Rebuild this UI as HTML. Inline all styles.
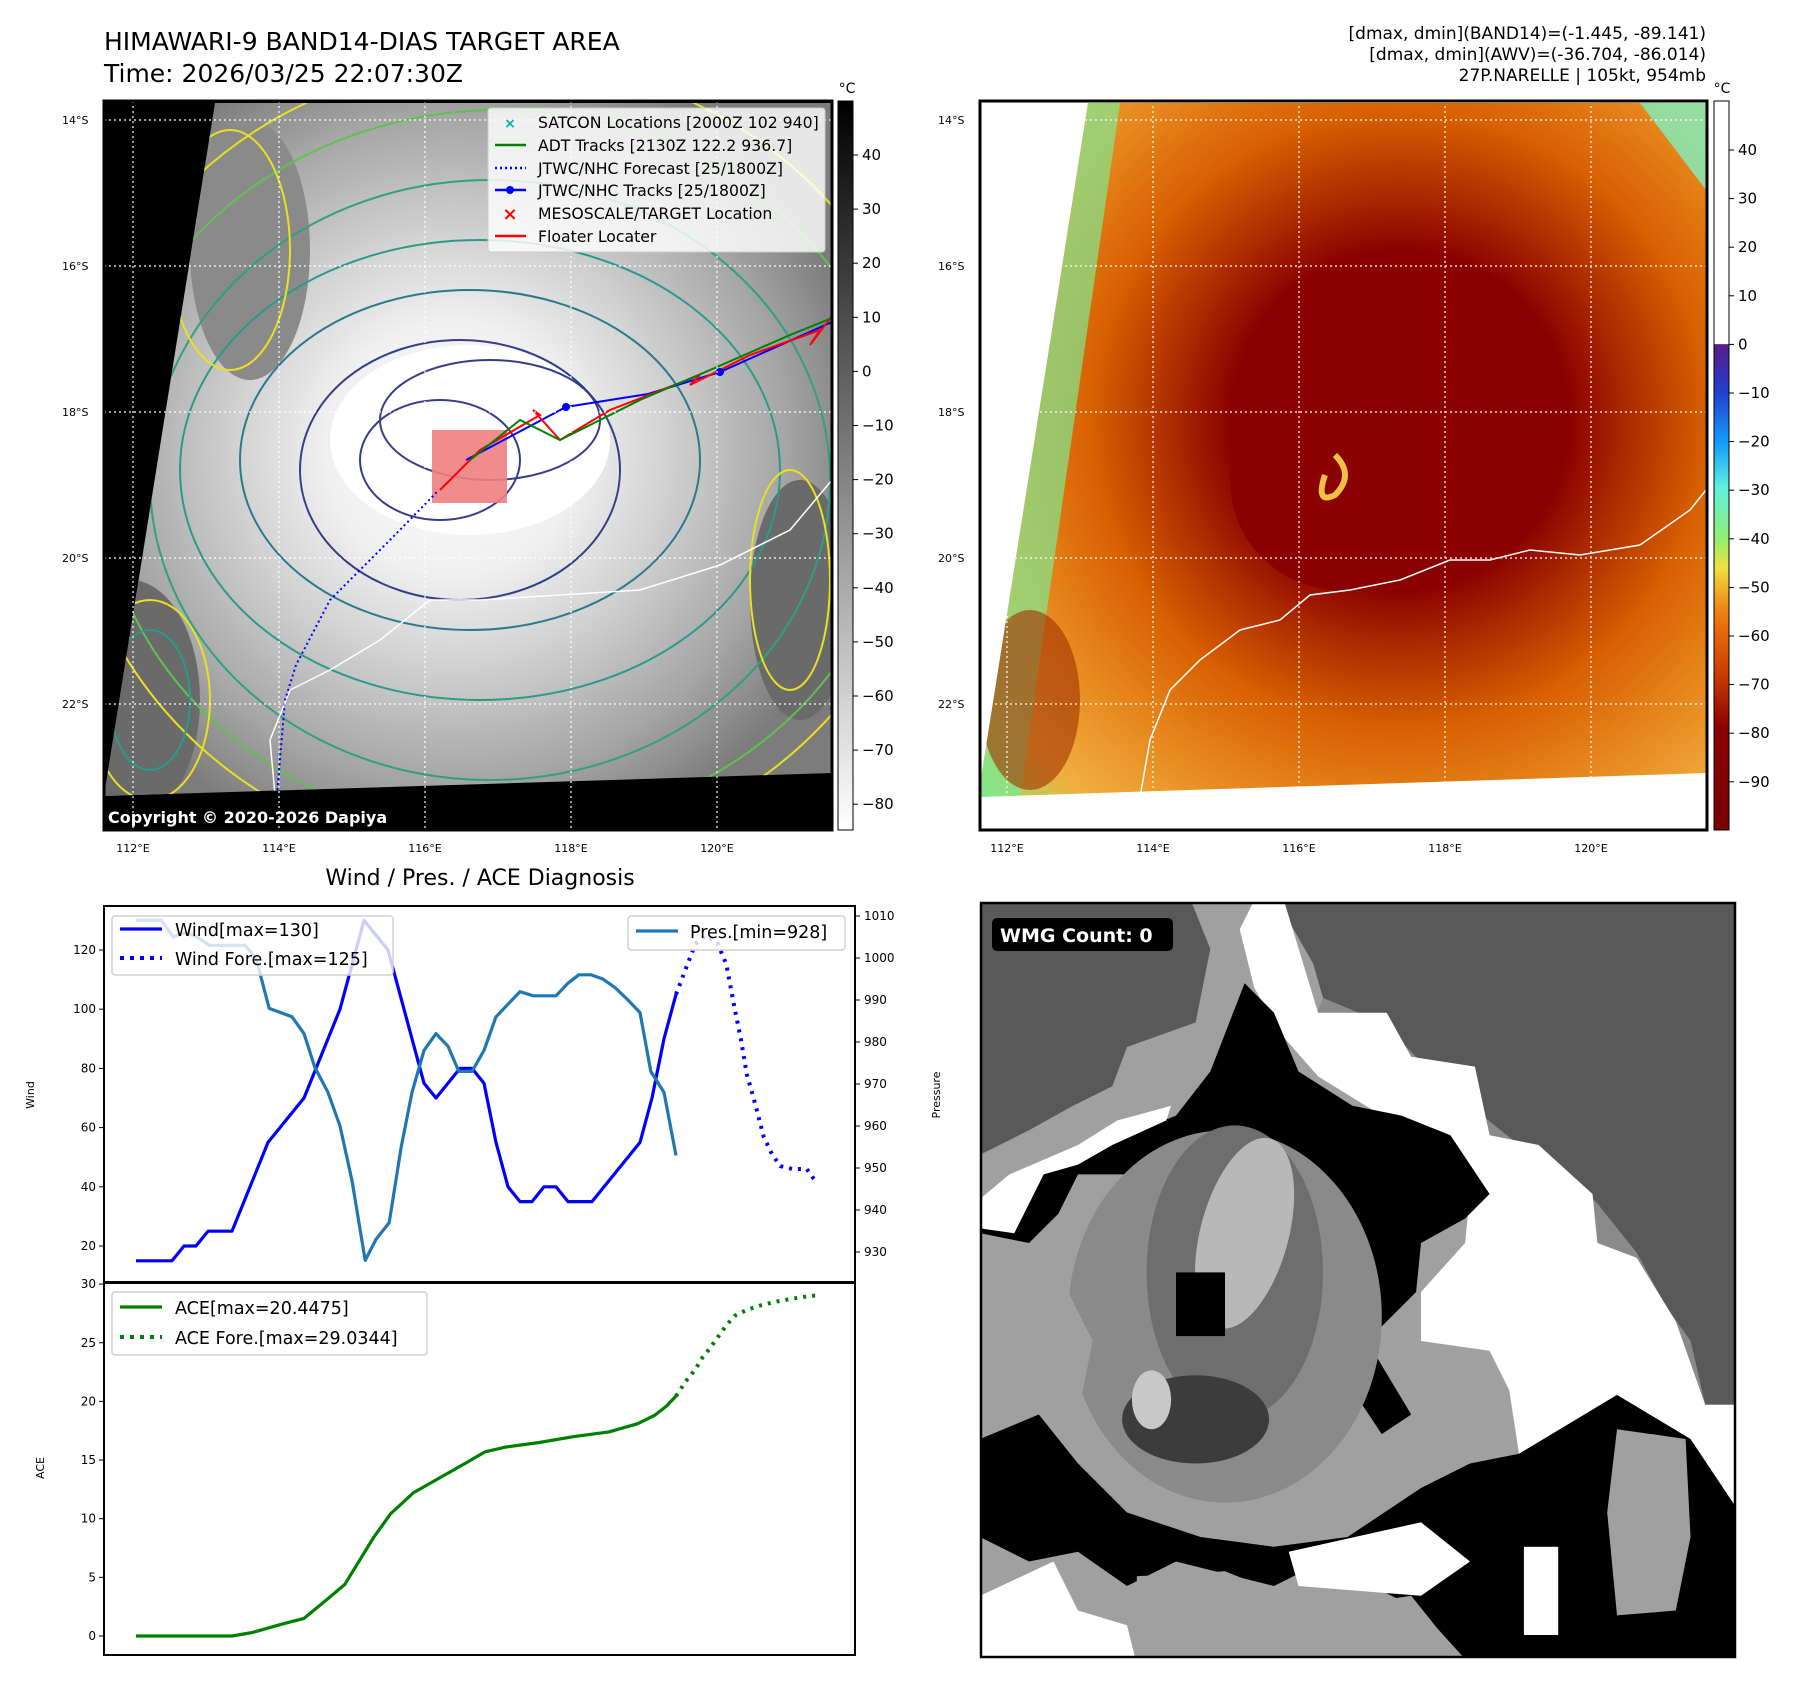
<!DOCTYPE html>
<html><head><meta charset="utf-8"><style>
html,body{margin:0;padding:0;background:#fff;}
svg{display:block;font-family:"DejaVu Sans","Liberation Sans",sans-serif;}
</style></head><body>
<svg id="fig" width="1797" height="1690" viewBox="0 0 1797 1690" xmlns="http://www.w3.org/2000/svg">
<defs>
<radialGradient id="lgray" cx="452" cy="449" r="420" gradientUnits="userSpaceOnUse">
<stop offset="0" stop-color="#ffffff"/><stop offset="0.3" stop-color="#f0f0f0"/><stop offset="0.55" stop-color="#cccccc"/><stop offset="0.8" stop-color="#a4a4a4"/><stop offset="1" stop-color="#7c7c7c"/></radialGradient>
<radialGradient id="rcol" cx="1400" cy="420" r="560" gradientUnits="userSpaceOnUse">
<stop offset="0" stop-color="#8b0000"/><stop offset="0.3" stop-color="#8b0000"/><stop offset="0.42" stop-color="#b03000"/><stop offset="0.55" stop-color="#d86000"/><stop offset="0.72" stop-color="#e88a20"/><stop offset="0.88" stop-color="#f0b040"/><stop offset="1" stop-color="#90e070"/></radialGradient>
<linearGradient id="cbL" x1="0" y1="0" x2="0" y2="1"><stop offset="0" stop-color="#000"/><stop offset="1" stop-color="#fff"/></linearGradient>
<linearGradient id="cbR" x1="0" y1="0" x2="0" y2="1">
<stop offset="0" stop-color="#fff"/><stop offset="0.333" stop-color="#fff"/><stop offset="0.334" stop-color="#5a1a8a"/><stop offset="0.4" stop-color="#2040d0"/><stop offset="0.47" stop-color="#10a0ff"/><stop offset="0.53" stop-color="#60f0e0"/><stop offset="0.6" stop-color="#90f070"/><stop offset="0.64" stop-color="#f0e040"/><stop offset="0.7" stop-color="#f08010"/><stop offset="0.78" stop-color="#d04000"/><stop offset="0.86" stop-color="#8b0000"/><stop offset="1" stop-color="#7a0000"/></linearGradient>
<clipPath id="clipL"><polygon points="215,103 832,103 832,773 104,796"/></clipPath>
<clipPath id="clipR"><polygon points="1088,103 1706,103 1706,773 978,797"/></clipPath>
<clipPath id="clipW"><rect x="981" y="903" width="754" height="754"/></clipPath>
</defs>

<text x="104" y="50" font-size="25">HIMAWARI-9 BAND14-DIAS TARGET AREA</text>
<text x="104" y="82" font-size="25">Time: 2026/03/25 22:07:30Z</text>
<g font-size="17" text-anchor="end">
<text x="1706" y="39">[dmax, dmin](BAND14)=(-1.445, -89.141)</text>
<text x="1706" y="60">[dmax, dmin](AWV)=(-36.704, -86.014)</text>
<text x="1706" y="81">27P.NARELLE | 105kt, 954mb</text>
</g>

<g>
<rect x="104" y="101" width="728" height="729" fill="#000"/>
<polygon points="215,103 832,103 832,773 104,796" fill="url(#lgray)"/>
<g clip-path="url(#clipL)" fill="none" stroke-width="2">
<ellipse cx="130" cy="700" rx="70" ry="120" fill="#6a6a6a" stroke="none"/>
<ellipse cx="250" cy="250" rx="60" ry="130" fill="#8a8a8a" stroke="none"/>
<ellipse cx="800" cy="600" rx="50" ry="120" fill="#6a6a6a" stroke="none"/>
<ellipse cx="470" cy="440" rx="140" ry="95" fill="#fff" stroke="none"/>
<ellipse cx="440" cy="460" rx="80" ry="60" stroke="#353e88"/>
<ellipse cx="490" cy="420" rx="110" ry="60" stroke="#353e88"/>
<ellipse cx="460" cy="470" rx="160" ry="130" stroke="#353e88"/>
<ellipse cx="470" cy="460" rx="230" ry="170" stroke="#2a7a8a"/>
<ellipse cx="480" cy="470" rx="300" ry="230" stroke="#2a9a8a"/>
<ellipse cx="490" cy="480" rx="340" ry="300" stroke="#30a080"/>
<ellipse cx="500" cy="470" rx="400" ry="360" stroke="#60c050"/>
<ellipse cx="500" cy="460" rx="430" ry="400" stroke="#e8e020"/>
<ellipse cx="230" cy="250" rx="60" ry="120" stroke="#e8e020"/>
<ellipse cx="150" cy="700" rx="60" ry="100" stroke="#e8e020"/>
<ellipse cx="150" cy="700" rx="40" ry="70" stroke="#2a9a8a"/>
<ellipse cx="790" cy="580" rx="40" ry="110" stroke="#e8e020"/>
<polyline points="275,795 270,740 290,690 330,670 380,640 430,600 480,600 560,595 640,590 720,565 790,530 832,480" stroke="#fff" stroke-width="1.5"/>
<rect x="432" y="430" width="75" height="73" fill="#f08080" stroke="none" opacity="0.9"/>
<polyline points="277,795 285,700 296,665 330,600 390,540 437,492" stroke="#0000ff" stroke-dasharray="2,3"/>
<polyline points="466,460 566,407 648,394 720,372 832,322" stroke="#0000ff"/>
<polyline points="440,490 480,450 540,415 533,410 560,440 610,410 700,375 690,385 750,355 820,330 810,345 832,316" stroke="#ff0000"/>
<polyline points="470,460 520,420 560,440 640,400 710,370 790,335 832,318" stroke="#008000"/>
<circle cx="566" cy="407" r="4" fill="#0000ff" stroke="none"/>
<circle cx="720" cy="372" r="4" fill="#0000ff" stroke="none"/>
</g>
<g stroke="#fff" stroke-dasharray="2,3" stroke-width="1.2" fill="none">
<line x1="133" y1="101" x2="133" y2="830"/><line x1="279" y1="101" x2="279" y2="830"/><line x1="425" y1="101" x2="425" y2="830"/><line x1="571" y1="101" x2="571" y2="830"/><line x1="717" y1="101" x2="717" y2="830"/>
<line x1="104" y1="120" x2="832" y2="120"/><line x1="104" y1="266" x2="832" y2="266"/><line x1="104" y1="412" x2="832" y2="412"/><line x1="104" y1="558" x2="832" y2="558"/><line x1="104" y1="704" x2="832" y2="704"/>
</g>
<rect x="104" y="101" width="728" height="729" fill="none" stroke="#000" stroke-width="3"/>
<text x="108" y="823" font-size="16" font-weight="bold" fill="#fff">Copyright © 2020-2026 Dapiya</text>
<g>
<rect x="488" y="108" width="337" height="144" rx="3" fill="#fff" fill-opacity="0.82" stroke="#ccc"/>
<g font-size="15.7">
<text x="538" y="128">SATCON Locations [2000Z 102 940]</text>
<text x="538" y="151">ADT Tracks [2130Z 122.2 936.7]</text>
<text x="538" y="174">JTWC/NHC Forecast [25/1800Z]</text>
<text x="538" y="196">JTWC/NHC Tracks [25/1800Z]</text>
<text x="538" y="219">MESOSCALE/TARGET Location</text>
<text x="538" y="242">Floater Locater</text>
</g>
<text x="510" y="128" font-size="14" font-weight="bold" fill="#00b0b0" text-anchor="middle">×</text>
<line x1="495" y1="145" x2="526" y2="145" stroke="#008000" stroke-width="2.5"/>
<line x1="495" y1="168" x2="526" y2="168" stroke="#0000ff" stroke-width="2.5" stroke-dasharray="2,3"/>
<line x1="495" y1="190" x2="526" y2="190" stroke="#0000ff" stroke-width="2.5"/><circle cx="510" cy="190" r="4" fill="#0000ff"/>
<text x="510" y="220" font-size="18" font-weight="bold" fill="#ff0000" text-anchor="middle">×</text>
<line x1="495" y1="236" x2="526" y2="236" stroke="#ff0000" stroke-width="2.5"/>
</g>
</g>
<g font-size="11">
<text x="62" y="124">14°S</text><text x="62" y="270">16°S</text><text x="62" y="416">18°S</text><text x="62" y="562">20°S</text><text x="62" y="708">22°S</text>
<g text-anchor="middle"><text x="133" y="852">112°E</text><text x="279" y="852">114°E</text><text x="425" y="852">116°E</text><text x="571" y="852">118°E</text><text x="717" y="852">120°E</text></g>
</g>
<g>
<rect x="838" y="101" width="15" height="729" fill="url(#cbL)" stroke="#000"/>
<text x="847" y="93" font-size="14" text-anchor="middle">°C</text>
<g font-size="15" id="cbLticks"></g>
</g>

<g>
<rect x="980" y="101" width="727" height="729" fill="#fff"/>
<polygon points="1088,103 1706,103 1706,773 978,797" fill="url(#rcol)"/>
<g clip-path="url(#clipR)">
<polygon points="1088,103 1120,103 1020,797 978,797" fill="#80e890" opacity="0.7"/>
<polygon points="1640,103 1706,103 1706,190" fill="#80f0c0" opacity="0.8"/>
<ellipse cx="1030" cy="700" rx="50" ry="90" fill="#a03000" opacity="0.6"/>
<ellipse cx="1340" cy="480" rx="110" ry="110" fill="#8b0000"/>
<path d="M1335,455 q20,20 0,40 q-20,10 -10,-20" stroke="#f0c040" stroke-width="6" fill="none"/>
<polyline points="1140,797 1150,740 1170,690 1200,660 1240,630 1280,620 1310,595 1350,590 1400,580 1450,560 1490,560 1530,550 1580,555 1640,545 1690,510 1706,490" stroke="#fff" stroke-width="1.5" fill="none"/>
</g>
<g stroke="#fff" stroke-dasharray="2,3" stroke-width="1.2" fill="none">
<line x1="1007" y1="101" x2="1007" y2="830"/><line x1="1153" y1="101" x2="1153" y2="830"/><line x1="1299" y1="101" x2="1299" y2="830"/><line x1="1445" y1="101" x2="1445" y2="830"/><line x1="1591" y1="101" x2="1591" y2="830"/>
<line x1="980" y1="120" x2="1706" y2="120"/><line x1="980" y1="266" x2="1706" y2="266"/><line x1="980" y1="412" x2="1706" y2="412"/><line x1="980" y1="558" x2="1706" y2="558"/><line x1="980" y1="704" x2="1706" y2="704"/>
</g>
<rect x="980" y="101" width="727" height="729" fill="none" stroke="#000" stroke-width="3"/>
</g>
<g font-size="11">
<text x="938" y="124">14°S</text><text x="938" y="270">16°S</text><text x="938" y="416">18°S</text><text x="938" y="562">20°S</text><text x="938" y="708">22°S</text>
<g text-anchor="middle"><text x="1007" y="852">112°E</text><text x="1153" y="852">114°E</text><text x="1299" y="852">116°E</text><text x="1445" y="852">118°E</text><text x="1591" y="852">120°E</text></g>
</g>
<g>
<rect x="1714" y="101" width="15" height="729" fill="url(#cbR)" stroke="#000"/>
<text x="1722" y="93" font-size="14" text-anchor="middle">°C</text>
<g font-size="15" id="cbRticks"></g>
</g>

<text x="480" y="885" font-size="22" text-anchor="middle">Wind / Pres. / ACE Diagnosis</text>
<g id="windChart"></g>
<g id="aceChart"></g>

<g>
<g clip-path="url(#clipW)">
<g transform="translate(980,900) scale(0.49)">
<rect x="0" y="0" width="1550" height="1560" fill="#a0a0a0"/>
<polygon points="0,0 430,0 470,100 440,250 300,300 270,380 190,420 100,470 0,520" fill="#595959"/>
<polygon points="600,0 1550,0 1550,1030 1480,1030 1450,900 1400,830 1340,720 1260,620 1200,560 1100,500 1000,420 900,330 820,250 700,200 680,130 640,60" fill="#595959"/>
<polygon points="700,200 820,250 900,330 1000,420 1100,500 1200,560 1260,620 1340,720 1400,830 1450,900 1480,1030 1420,1050 1360,900 1250,740 1120,640 1020,500 880,420 760,360 680,250" fill="#8a8a8a"/>
<polygon points="560,0 620,0 690,230 830,230 880,320 1010,340 1040,480 1140,500 1250,600 1260,700 1340,730 1420,860 1480,1030 1550,1030 1550,1250 1470,1160 1300,1010 1180,1110 1100,1130 1080,1000 1040,920 900,900 900,800 990,700 1000,600 940,480 820,440 690,360 620,280 560,180 530,60" fill="#fff"/>
<polygon points="470,350 540,170 600,230 650,350 760,420 860,440 960,480 1040,600 990,650 900,700 890,800 790,900 880,1050 820,1090 760,1000 700,900 640,820 560,700 450,600 300,560 200,560 160,640 100,700 0,680 0,660 60,560 200,520 300,480 400,440" fill="#000"/>
<ellipse cx="500" cy="850" rx="320" ry="380" fill="#8a8a8a"/>
<ellipse cx="520" cy="760" rx="180" ry="300" fill="#6e6e6e"/>
<ellipse cx="540" cy="680" rx="90" ry="200" fill="#b8b8b8" transform="rotate(15 540 680)"/>
<ellipse cx="440" cy="1060" rx="150" ry="90" fill="#3c3c3c"/>
<ellipse cx="350" cy="1020" rx="40" ry="60" fill="#c8c8c8"/>
<rect x="400" y="760" width="100" height="130" fill="#000"/>
<polygon points="0,1100 120,1050 200,1150 300,1250 450,1300 600,1320 750,1300 900,1200 1000,1150 1100,1130 1300,1010 1450,1100 1550,1250 1550,1560 1000,1560 900,1450 700,1350 600,1400 400,1350 300,1400 200,1330 100,1350 0,1300" fill="#000"/>
<polygon points="0,610 60,560 200,500 280,450 390,420 380,450 270,500 200,540 130,560 70,680 0,670" fill="#fff"/>
<polygon points="0,1420 150,1350 200,1450 300,1480 320,1560 0,1560" fill="#fff"/>
<polygon points="630,1330 900,1270 1000,1350 900,1420 650,1400" fill="#fff"/>
<rect x="1110" y="1320" width="70" height="180" fill="#fff"/>
<polygon points="320,1380 500,1370 700,1450 700,1560 320,1560" fill="#a0a0a0"/>
<polygon points="740,1440 880,1420 960,1520 960,1560 740,1560" fill="#a0a0a0"/>
<polygon points="1300,1080 1440,1100 1450,1300 1420,1450 1300,1460 1280,1250" fill="#a0a0a0"/>
<polygon points="0,760 150,740 230,900 200,1050 120,1040 0,1000" fill="#a0a0a0"/>
</g>
</g>
<rect x="981" y="903" width="754" height="754" fill="none" stroke="#000" stroke-width="2.5"/>
<rect x="992" y="918" width="181" height="33" rx="5" fill="#000"/>
<text x="1000" y="942" font-size="19" font-weight="bold" fill="#fff">WMG Count: 0</text>
</g>
</svg>
<script>
const windT = [0,3,4,5,6,8,11,14,17,19,21,24,25,27,28,29,30,31,32,33,34,35,36,38,42,43,44,45];
const windV = [15,15,20,20,25,25,55,70,100,130,120,75,70,80,80,75,55,40,35,35,40,40,35,35,55,70,90,105];
const windFT = [45,46.6,47.5,48.5,49.2,49.9,50.4,50.9,51.6,52.3,53.0,53.7,54.7,55.9,56.6];
const windFV = [105,122,125,122,115,100,90,78,68,57,51,47,46,46,42];
const presT = [0,2.1,3.1,4.1,5.1,6.1,9.1,10,11.1,13,14,14.9,16,17,18,19.1,20,21.1,22.1,23,24,25,26,26.9,28,29,30,31,32,33.1,35,36,36.9,37.9,38.9,39.9,41,42,42.9,44,45];
const presV = [1009,1009,1005,1006,1005,1003,1003,1000,988,986,982,974,968,960,947,928,933,937,955,968,978,982,979,973,973,978,986,989,992,991,991,994,996,996,995,993,990,987,973,968,953];
const aceT = [0,8,9.7,12.1,14,15.9,17.4,18.6,19.8,21.2,23.1,25.5,27.4,29.1,30.8,33.6,36.5,39.4,41.8,43.2,44.2,45];
const aceV = [0,0,0.3,1.0,1.5,3.1,4.4,6.4,8.4,10.4,12.2,13.6,14.7,15.7,16.1,16.5,17.0,17.4,18.1,18.8,19.6,20.45];
const aceFT = [45,45.8,46.6,47.1,47.8,48.5,49.2,49.9,50.9,52.1,53.3,54.4,55.6,56.6];
const aceFV = [20.45,21.7,22.7,23.6,24.5,25.5,26.5,27.3,27.8,28.2,28.5,28.7,28.9,29.03];
const windTicks = [20,40,60,80,100,120];
const presTicks = [930,940,950,960,970,980,990,1000,1010];
const aceTicks = [0,5,10,15,20,25,30];
const cbLTicks = [40,30,20,10,0,-10,-20,-30,-40,-50,-60,-70,-80];
const cbRTicks = [40,30,20,10,0,-10,-20,-30,-40,-50,-60,-70,-80,-90];

const NS='http://www.w3.org/2000/svg';
function mk(tag, attrs, parent){const e=document.createElementNS(NS,tag);for(const k in attrs)e.setAttribute(k,attrs[k]);parent.appendChild(e);return e;}
const xS = t => 136 + t*12.0;
const yW = v => 1246 - (v-20)*2.96;
const yP = p => 1252 - (p-930)*4.2;
const yA = a => 1636 - a*11.73;
const cbL = v => 155 + (40-v)*5.41;
const cbR = v => 150 + (40-v)*4.86;

const gL=document.getElementById('cbLticks');
cbLTicks.forEach(v=>{
  const l=mk('line',{x1:853,x2:858,y1:cbL(v),y2:cbL(v),stroke:'#000'},gL);
  
  
  const t=mk('text',{x:862,y:cbL(v)+5},gL);t.textContent=String(v).replace('-','−');
  
  
});
const gR=document.getElementById('cbRticks');
cbRTicks.forEach(v=>{
  const l=mk('line',{x1:1729,x2:1734,y1:cbR(v),y2:cbR(v),stroke:'#000'},gR);
  
  
  const t=mk('text',{x:1738,y:cbR(v)+5},gR);t.textContent=String(v).replace('-','−');
  
  
});

function pts(T,V,fy){return T.map((t,i)=>xS(t).toFixed(1)+','+fy(V[i]).toFixed(1)).join(' ');}

const wc=document.getElementById('windChart');
const frameW=mk('rect',{x:104,y:906,width:751,height:376,fill:'#fff',stroke:'#000','stroke-width':2},wc);


windTicks.forEach(v=>{
  mk('line',{x1:99,x2:104,y1:yW(v),y2:yW(v),stroke:'#000'},wc);
  const t=mk('text',{x:96,y:yW(v)+4,'font-size':12,'text-anchor':'end'},wc);t.textContent=v;
  
  
});
presTicks.forEach(v=>{
  mk('line',{x1:855,x2:860,y1:yP(v),y2:yP(v),stroke:'#000'},wc);
  const t=mk('text',{x:864,y:yP(v)+4,'font-size':12},wc);t.textContent=v;
  
  
});
const wl=mk('text',{x:34,y:1095,'font-size':11,'text-anchor':'middle',transform:'rotate(-90 34 1095)'},wc);wl.textContent='Wind';


const pl=mk('text',{x:940,y:1095,'font-size':11,'text-anchor':'middle',transform:'rotate(-90 940 1095)'},wc);pl.textContent='Pressure';


const wline=mk('polyline',{points:pts(windT,windV,yW),fill:'none',stroke:'#0000ff','stroke-width':3.2,'stroke-linejoin':'round'},wc);


const wfl=mk('polyline',{points:pts(windFT,windFV,yW),fill:'none',stroke:'#0000ff','stroke-width':4,'stroke-dasharray':'3,6'},wc);


const pline=mk('polyline',{points:pts(presT,presV,yP),fill:'none',stroke:'#1f77b4','stroke-width':3.2,'stroke-linejoin':'round'},wc);


const lg1=mk('g',{},wc);


mk('rect',{x:112,y:916,width:281,height:59,rx:3,fill:'#fff','fill-opacity':0.8,stroke:'#d0d0d0','stroke-width':1.5},lg1);
mk('line',{x1:120,x2:162,y1:929,y2:929,stroke:'#0000ff','stroke-width':3.2},lg1);
mk('line',{x1:120,x2:162,y1:958,y2:958,stroke:'#0000ff','stroke-width':4,'stroke-dasharray':'4,6'},lg1);
let t1=mk('text',{x:175,y:936,'font-size':17.5},lg1);t1.textContent='Wind[max=130]';
let t2=mk('text',{x:175,y:965,'font-size':17.5},lg1);t2.textContent='Wind Fore.[max=125]';
const lg2=mk('g',{},wc);


mk('rect',{x:628,y:916,width:217,height:34,rx:3,fill:'#fff','fill-opacity':0.8,stroke:'#d0d0d0','stroke-width':1.5},lg2);
mk('line',{x1:636,x2:678,y1:931,y2:931,stroke:'#1f77b4','stroke-width':3.2},lg2);
let t3=mk('text',{x:690,y:938,'font-size':17.5},lg2);t3.textContent='Pres.[min=928]';

const ac=document.getElementById('aceChart');
const frameA=mk('rect',{x:104,y:1283,width:751,height:372,fill:'none',stroke:'#000','stroke-width':2},ac);


aceTicks.forEach(v=>{
  mk('line',{x1:99,x2:104,y1:yA(v),y2:yA(v),stroke:'#000'},ac);
  const t=mk('text',{x:96,y:yA(v)+4,'font-size':12,'text-anchor':'end'},ac);t.textContent=v;
  
  
});
const al=mk('text',{x:44,y:1468,'font-size':11,'text-anchor':'middle',transform:'rotate(-90 44 1468)'},ac);al.textContent='ACE';


const aline=mk('polyline',{points:pts(aceT,aceV,yA),fill:'none',stroke:'#008000','stroke-width':3.2,'stroke-linejoin':'round'},ac);


const afl=mk('polyline',{points:pts(aceFT,aceFV,yA),fill:'none',stroke:'#008000','stroke-width':4,'stroke-dasharray':'3,6'},ac);


const lg3=mk('g',{},ac);


mk('rect',{x:112,y:1292,width:315,height:63,rx:3,fill:'#fff','fill-opacity':0.8,stroke:'#d0d0d0','stroke-width':1.5},lg3);
mk('line',{x1:120,x2:162,y1:1307,y2:1307,stroke:'#008000','stroke-width':3.2},lg3);
mk('line',{x1:120,x2:162,y1:1337,y2:1337,stroke:'#008000','stroke-width':4,'stroke-dasharray':'4,6'},lg3);
let t4=mk('text',{x:175,y:1314,'font-size':17.5},lg3);t4.textContent='ACE[max=20.4475]';
let t5=mk('text',{x:175,y:1344,'font-size':17.5},lg3);t5.textContent='ACE Fore.[max=29.0344]';
</script>
</body></html>
